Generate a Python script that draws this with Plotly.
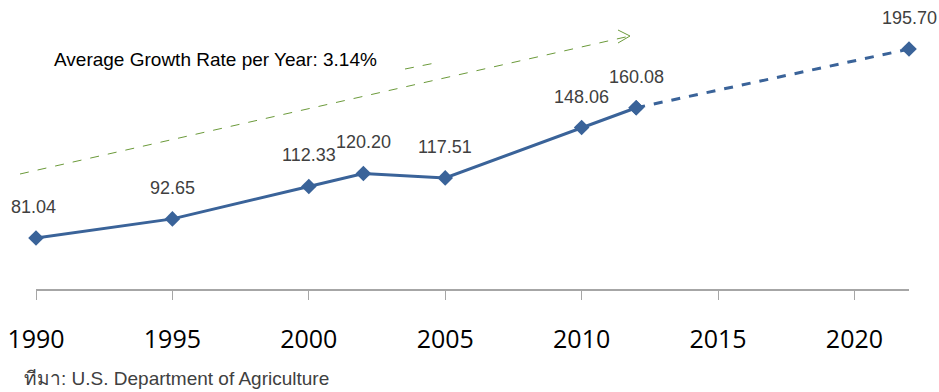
import plotly.graph_objects as go

years_actual = [1990, 1995, 2000, 2002, 2005, 2010, 2012]
values_actual = [81.04, 92.65, 112.33, 120.20, 117.51, 148.06, 160.08]
years_proj = [2012, 2022]
values_proj = [160.08, 195.70]
label_years = [1990, 1995, 2000, 2002, 2005, 2010, 2012, 2022]
label_values = [81.04, 92.65, 112.33, 120.20, 117.51, 148.06, 160.08, 195.70]
tick_years = [1990, 1995, 2000, 2005, 2010, 2015, 2020]

W, H = 939, 392
ML, MR, MT, MB = 36, 30, 0, 103
PW, PH = W - ML - MR, H - MT - MB

def px(x, y):
    return (x - ML) / PW, (H - MB - y) / PH

BLUE = "#3A6399"
GREEN = "#6B9A3A"

fig = go.Figure()
fig.add_trace(go.Scatter(x=years_actual, y=values_actual, mode="lines+markers",
                         line=dict(color=BLUE, width=3),
                         marker=dict(symbol="diamond", size=12, color=BLUE),
                         cliponaxis=False, showlegend=False, hoverinfo="skip"))
fig.add_trace(go.Scatter(x=years_proj, y=values_proj, mode="lines+markers",
                         line=dict(color=BLUE, width=3, dash="dash"),
                         marker=dict(symbol="diamond", size=12, color=BLUE),
                         cliponaxis=False, showlegend=False, hoverinfo="skip"))

for xv, yv in zip(label_years, label_values):
    fig.add_annotation(x=xv, y=yv, text=f"{yv:.2f}", showarrow=False, yshift=31,
                       xshift=-3 if xv == 1990 else 0,
                       font=dict(family="Arial, Liberation Sans", size=18, color="#404040"))

# trend arrow (decoration)
x0, y0 = px(20, 174)
x1, y1 = px(630, 36)
fig.add_shape(type="line", xref="paper", yref="paper", x0=x0, y0=y0, x1=x1, y1=y1,
              line=dict(color=GREEN, width=1, dash="dash"))
a1 = px(618, 30); a2 = px(618, 43)
fig.add_shape(type="path", xref="paper", yref="paper",
              path=f"M {a1[0]},{a1[1]} L {x1},{y1} L {a2[0]},{a2[1]}",
              line=dict(color=GREEN, width=1))
s0 = px(405, 69); s1 = px(440, 62)
fig.add_shape(type="line", xref="paper", yref="paper", x0=s0[0], y0=s0[1], x1=s1[0], y1=s1[1],
              line=dict(color=GREEN, width=1, dash="dash"))

gx, gy = px(52, 60)
fig.add_annotation(xref="paper", yref="paper", x=gx, y=gy, xanchor="left", yanchor="middle",
                   text="Average Growth Rate per Year: 3.14%", showarrow=False,
                   font=dict(family="Arial, Liberation Sans", size=19, color="#000000"))

sx, sy = px(22, 378)
fig.add_annotation(xref="paper", yref="paper", x=sx, y=sy, xanchor="left", yanchor="middle",
                   text="ทีมา: U.S. Department of Agriculture", showarrow=False,
                   font=dict(family="Arial, Liberation Sans, Noto Sans", size=19, color="#404040"))

fig.update_xaxes(range=[1990, 2022], tickvals=tick_years, ticktext=[str(t) for t in tick_years],
                 showgrid=False, zeroline=False, showline=True, linecolor="#A6A6A6", linewidth=1.5,
                 ticks="outside", ticklen=9, tickcolor="#A6A6A6", tickwidth=1,
                 ticklabelstandoff=18,
                 tickfont=dict(family="Open Sans", size=25, color="#000000"))
fig.update_yaxes(range=[50.1, 50.1 + PH / 1.648], visible=False, showgrid=False, zeroline=False)

fig.update_layout(width=W, height=H, margin=dict(l=ML, r=MR, t=MT, b=MB),
                  plot_bgcolor="white", paper_bgcolor="white")
fig.write_html("out.html")
